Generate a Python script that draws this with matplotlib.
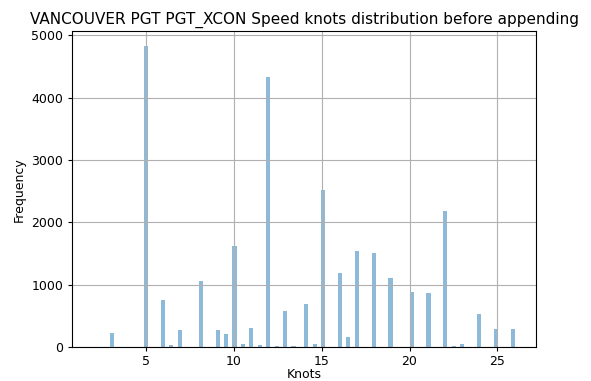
import numpy as np
import matplotlib
matplotlib.use("Agg")
import matplotlib.pyplot as plt

# speed values (knots) and how many records have each
knots = [2, 3, 4, 5, 6, 6.5, 7, 8, 9, 9.5, 10, 10.5, 11, 11.5, 12, 12.5, 13, 13.5,
         14, 14.5, 15, 15.5, 16, 16.5, 17, 18, 19, 20, 21, 22, 22.5, 23, 24, 25, 26]
counts = [3, 225, 12, 4825, 750, 30, 280, 1060, 275, 215, 1620, 48, 305, 30, 4335, 15, 580, 15,
          700, 48, 2520, 12, 1195, 165, 1543, 1511, 1105, 893, 866, 2180, 28, 45, 530, 290, 290]

speeds = np.repeat(knots, counts)

plt.rcParams["font.size"] = 9
plt.rcParams["axes.titlesize"] = 11
plt.rcParams["xtick.major.size"] = 3.2
plt.rcParams["ytick.major.size"] = 3.2
plt.rcParams["xtick.major.pad"] = 2.2
plt.rcParams["ytick.major.pad"] = 3.2

fig = plt.figure(figsize=(5.91, 3.81), dpi=100)
ax = fig.add_axes([0.122, 0.0885, 0.785, 0.83])
ax.hist(speeds, bins=100, alpha=0.5, color="C0")
ax.grid(True)
ax.set_title("VANCOUVER PGT PGT_XCON Speed knots distribution before appending", pad=5)
ax.set_xlabel("Knots", labelpad=0.5)
ax.set_ylabel("Frequency", labelpad=4)

fig.savefig("out.png", dpi=100)
